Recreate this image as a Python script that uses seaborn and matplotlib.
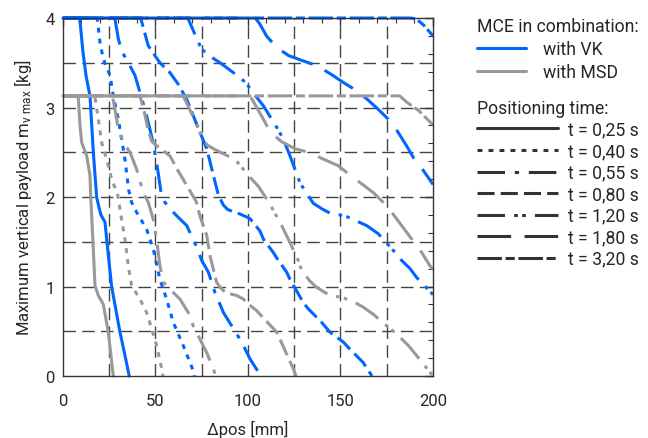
import matplotlib
matplotlib.use("Agg")
import matplotlib.pyplot as plt
from matplotlib.lines import Line2D
import numpy as np
import pandas as pd
import seaborn as sns

BLUE = "#0066ff"
GRAY = "#999999"

TIMES = ["0,25", "0,40", "0,55", "0,80", "1,20", "1,80", "3,20"]
DASHES = {
    "0,25": "",
    "0,40": (1.6, 2.0),
    "0,55": (9.0, 3.2, 1.4, 3.2),
    "0,80": (5.6, 2.0),
    "1,20": (9.0, 3.0, 1.2, 1.4, 1.2, 3.0),
    "1,80": (11.0, 4.4),
    "3,20": (8.0, 1.2, 3.0, 1.2),
}

# ── MCE with VK (blue) ────────────────────────────────────────────────────
VK_025_X = [0, 9, 9.5, 10.8, 12.5, 14.6, 16.4, 18.2, 19.5, 20.5, 22.7, 24.5, 26.3, 28.5, 30.8, 33.3, 35.8]
VK_025_Y = [4, 4, 3.9, 3.62, 3.35, 3.13, 2.5, 2.0, 1.88, 1.8, 1.72, 1.35, 1.0, 0.75, 0.49, 0.25, 0]
VK_040_X = [0, 18.5, 20, 21.8, 25.4, 27.2, 29.9, 33.5, 35.5, 37.1, 39.8, 45.2, 48.8, 52.4, 56, 59.6, 65, 70.4, 71]
VK_040_Y = [4, 4, 3.73, 3.54, 3.36, 3.13, 2.87, 2.42, 2.08, 1.94, 1.83, 1.64, 1.42, 1.08, 0.86, 0.6, 0.34, 0.06, 0]
VK_055_X = [0, 28, 29.9, 31.7, 35.3, 38.9, 41.6, 44.3, 47.9, 50.6, 53, 55.1, 60.5, 66.9, 72.3, 75, 78.6, 82.2, 86.7, 92.1, 96.6, 101.1, 107]
VK_055_Y = [4, 4, 3.77, 3.63, 3.5, 3.36, 3.17, 2.98, 2.68, 2.39, 2.05, 1.94, 1.81, 1.68, 1.44, 1.29, 1.16, 0.93, 0.71, 0.53, 0.38, 0.19, 0]
VK_080_X = [0, 42, 46.1, 49.7, 52.4, 57.8, 62.3, 66.9, 70.4, 74.1, 77.7, 81.3, 84, 86.7, 89, 95.7, 101, 106.5, 108.3, 113.7,
            115.5, 120.9, 122.7, 129.9, 132.6, 139.8, 144.3, 151.5, 155.1, 162.3, 167]
VK_080_Y = [4, 4, 3.69, 3.58, 3.5, 3.39, 3.26, 3.09, 2.91, 2.72, 2.54, 2.24, 2.02, 1.91, 1.86, 1.81, 1.76, 1.62, 1.53, 1.38,
            1.32, 1.16, 1.08, 0.82, 0.75, 0.6, 0.49, 0.38, 0.3, 0.15, 0]
VK_120_X = [0, 67, 67.7, 72.3, 75, 80.4, 84.9, 96.6, 100.2, 102.9, 108.3, 115.5, 119, 122.7, 128.1, 130.8, 135.3, 139.8,
            144.3, 152.4, 157.8, 164.2, 170.4, 179.5, 183.1, 187.6, 191.2, 200]
VK_120_Y = [4, 4, 3.99, 3.77, 3.65, 3.56, 3.5, 3.32, 3.24, 3.16, 3.02, 2.78, 2.65, 2.46, 2.16, 2.07, 1.93, 1.87,
            1.82, 1.79, 1.74, 1.68, 1.59, 1.38, 1.29, 1.2, 1.1, 0.91]
VK_180_X = [0, 104, 106.5, 110, 115.5, 122, 129.9, 137, 145, 151.5, 157, 164, 170.4, 175.8, 180, 185.8, 189.4, 195, 200]
VK_180_Y = [4, 4, 3.93, 3.8, 3.67, 3.58, 3.52, 3.47, 3.37, 3.28, 3.21, 3.1, 2.98, 2.87, 2.76, 2.57, 2.44, 2.29, 2.14]
VK_320_X = [0, 188, 191, 195, 200]
VK_320_Y = [4, 4, 3.99, 3.92, 3.8]

# ── MCE with MSD (gray) ───────────────────────────────────────────────────
MSD_025_X = [0, 8, 8.3, 9.2, 10.1, 12.8, 14.6, 15.0, 16.2, 17.3, 19.1, 21.8, 24.5, 27.2]
MSD_025_Y = [3.13, 3.13, 3.1, 2.8, 2.61, 2.46, 2.24, 2.0, 1.5, 1.01, 0.9, 0.8, 0.49, 0]
MSD_040_X = [0, 16.5, 17.3, 19.1, 20.9, 23.6, 26.3, 29.5, 31.7, 33.5, 35.3, 37.1, 41.6, 45.2, 47.9, 50.6, 53.4, 54]
MSD_040_Y = [3.13, 3.13, 3.11, 2.87, 2.61, 2.42, 2.2, 2.03, 1.75, 1.53, 1.23, 1.01, 0.86, 0.71, 0.53, 0.34, 0.08, 0]
MSD_055_X = [0, 26, 27.2, 29, 29.9, 32.6, 36.2, 39.8, 43.4, 46.1, 48.8, 50.6, 52.4, 54.2, 57.8, 63.2, 67.7, 70.4, 74.1,
             77.7, 81.3, 82.5]
MSD_055_Y = [3.13, 3.13, 3.08, 2.87, 2.76, 2.61, 2.5, 2.31, 2.05, 1.94, 1.75, 1.53, 1.23, 1.05, 0.97, 0.86, 0.71, 0.56, 0.41,
             0.26, 0.08, 0]
MSD_080_X = [0, 41.6, 44, 46, 48, 52, 57.8, 62, 68.6, 72, 74, 77.7, 79.5, 83, 85, 88, 93.9, 97.5, 99.3, 104.7, 107.4,
             115.5, 117.3, 124.5, 126]
MSD_080_Y = [3.13, 3.13, 2.95, 2.75, 2.62, 2.55, 2.46, 2.3, 2.07, 1.95, 1.79, 1.57, 1.34, 1.05, 0.99, 0.93, 0.9, 0.86, 0.82,
             0.73, 0.67, 0.49, 0.41, 0.08, 0]
MSD_120_X = [0, 65, 68, 71.4, 75, 78, 81.3, 87, 93, 97.5, 101.1, 105.6, 111.9, 118.2, 121.8, 127.2, 129, 133.5, 137.1,
             144.3, 150.6, 156, 162.3, 167.7, 176.8, 181.3, 186.7, 190.3, 200]
MSD_120_Y = [3.13, 3.13, 3.0, 2.85, 2.67, 2.58, 2.54, 2.48, 2.42, 2.31, 2.22, 2.12, 1.92, 1.68, 1.53, 1.29, 1.18, 1.06, 0.99,
             0.9, 0.88, 0.84, 0.77, 0.69, 0.53, 0.45, 0.34, 0.25, 0.0]
MSD_180_X = [0, 100, 102, 108.3, 111.9, 118, 125.4, 132.6, 140, 148.8, 154.2, 160, 167.7, 173.1, 178, 183.1, 188.5, 193,
             198.4, 200]
MSD_180_Y = [3.13, 3.13, 3.1, 2.87, 2.73, 2.62, 2.54, 2.5, 2.43, 2.35, 2.26, 2.17, 2.05, 1.94, 1.82, 1.68, 1.53, 1.41,
             1.23, 1.19]
MSD_320_X = [0, 182, 185.8, 192, 199.3, 200]
MSD_320_Y = [3.13, 3.13, 3.06, 2.97, 2.82, 2.81]

CURVES = {
    "VK": [(VK_025_X, VK_025_Y), (VK_040_X, VK_040_Y), (VK_055_X, VK_055_Y), (VK_080_X, VK_080_Y),
           (VK_120_X, VK_120_Y), (VK_180_X, VK_180_Y), (VK_320_X, VK_320_Y)],
    "MSD": [(MSD_025_X, MSD_025_Y), (MSD_040_X, MSD_040_Y), (MSD_055_X, MSD_055_Y), (MSD_080_X, MSD_080_Y),
            (MSD_120_X, MSD_120_Y), (MSD_180_X, MSD_180_Y), (MSD_320_X, MSD_320_Y)],
}


def build_frame() -> pd.DataFrame:
    rows = []
    for system, curves in CURVES.items():
        for t, (xs, ys) in zip(TIMES, curves):
            for i, (x, y) in enumerate(zip(xs, ys)):
                rows.append({"system": system, "time": t, "order": i, "pos": x, "payload": y})
    return pd.DataFrame(rows)


def main() -> None:
    sns.set_theme(style="white")
    plt.rcParams["font.family"] = ["Roboto", "DejaVu Sans"]
    plt.rcParams["mathtext.default"] = "regular"
    plt.rcParams["font.size"] = 12

    df = build_frame()

    fig = plt.figure(figsize=(6.48, 4.39), dpi=100)
    ax = fig.add_axes([0.0972, 0.1412, 0.5710, 0.8155])

    # dashed grid lines
    for gx in range(25, 200, 25):
        ax.axvline(gx, color="#444444", lw=1.0, dashes=(9, 4.5), zorder=0.5)
    for gy in np.arange(0.5, 4.0, 0.5):
        ax.axhline(gy, color="#444444", lw=1.0, dashes=(9, 4.5), zorder=0.5)

    for system, color in [("VK", BLUE), ("MSD", GRAY)]:
        sub = df[df["system"] == system]
        sns.lineplot(
            data=sub, x="pos", y="payload", style="time", units="time",
            estimator=None, sort=False, color=color, dashes=DASHES,
            style_order=TIMES, linewidth=2.2, legend=False, ax=ax, clip_on=False,
        )

    ax.set_xlim(0, 200)
    ax.set_ylim(0, 4)
    ax.set_xticks([0, 50, 100, 150, 200])
    ax.set_xticks(np.arange(0, 201, 10), minor=True)
    ax.set_yticks([0, 1, 2, 3, 4])
    ax.set_yticks(np.arange(0, 4.01, 0.2), minor=True)
    ax.tick_params(which="both", direction="in", top=True, right=True, color="#333333", labelsize=12)
    ax.tick_params(which="major", length=6, width=1)
    ax.tick_params(which="minor", length=3.5, width=0.8)
    ax.tick_params(axis="x", pad=12)
    ax.tick_params(axis="y", pad=6)
    for s in ax.spines.values():
        s.set_color("#333333")
        s.set_linewidth(1.0)

    ax.set_xlabel("Δpos [mm]", fontsize=12, labelpad=9)
    ax.set_ylabel("Maximum vertical payload m$_{v\\ max}$ [kg]", fontsize=12, labelpad=8)

    sys_handles = [Line2D([], [], color=BLUE, lw=2.2), Line2D([], [], color=GRAY, lw=2.2)]
    leg1 = ax.legend(sys_handles, ["with VK", "with MSD"], title="MCE in combination:",
                     loc="upper left", bbox_to_anchor=(0.736, 0.958), bbox_transform=fig.transFigure,
                     frameon=False, alignment="left", handlelength=2.8, handletextpad=0.96,
                     borderpad=0, borderaxespad=0, labelspacing=0.27, fontsize=12.7, title_fontsize=12.7)
    ax.add_artist(leg1)

    time_handles = [Line2D([], [], color="#333333", lw=2.2) for _ in TIMES]
    for h, t in zip(time_handles, TIMES):
        if DASHES[t]:
            h.set_dashes(DASHES[t])
    leg2 = ax.legend(time_handles, [f"t = {t} s" for t in TIMES], title="Positioning time:",
                     loc="upper left", bbox_to_anchor=(0.736, 0.772), bbox_transform=fig.transFigure,
                     frameon=False, alignment="left", handlelength=4.6, handletextpad=0.57,
                     borderpad=0, borderaxespad=0, labelspacing=0.2, fontsize=12.7, title_fontsize=12.7)

    fig.savefig("out.png", dpi=100)
    plt.close(fig)


if __name__ == "__main__":
    main()
